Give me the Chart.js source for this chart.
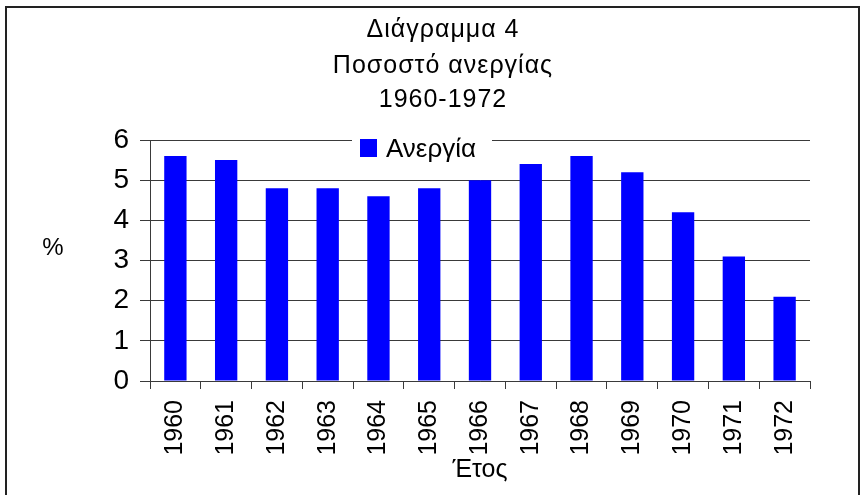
<!DOCTYPE html>
<html>
<head>
<meta charset="utf-8">
<script src="https://cdn.jsdelivr.net/npm/chart.js@4/dist/chart.umd.min.js"></script>
<style>
  html, body { margin: 0; padding: 0; background: #fff; }
  #wrap { position: relative; width: 862px; height: 495px; }
</style>
</head>
<body>
<div id="wrap"><canvas id="c" width="862" height="495"></canvas></div>
<script>
const categories = ['1960','1961','1962','1963','1964','1965','1966','1967','1968','1969','1970','1971','1972'];
const unemployment = [5.6, 5.5, 4.8, 4.8, 4.6, 4.8, 5.0, 5.4, 5.6, 5.2, 4.2, 3.1, 2.1];
const titleLines = ['Διάγραμμα 4', 'Ποσοστό ανεργίας', '1960-1972'];
const seriesName = 'Ανεργία';
const xTitle = 'Έτος';
const yTitle = '%';
const yTicks = [0, 1, 2, 3, 4, 5, 6];

const FONT = "'Liberation Sans', Arial, sans-serif";
const GRID = '#3a3a3a';

const extras = {
  id: 'extras',
  beforeDraw(chart) {
    const ctx = chart.ctx;
    ctx.save();
    ctx.fillStyle = '#fff';
    ctx.fillRect(0, 0, chart.width, chart.height);
    ctx.restore();
  },
  afterDraw(chart) {
    const ctx = chart.ctx;
    const ds = chart.data.datasets[0];
    ctx.save();
    // title lines
    ctx.fillStyle = '#000';
    ctx.font = '25px ' + FONT;
    ctx.textAlign = 'center';
    ctx.textBaseline = 'alphabetic';
    if ('letterSpacing' in ctx) ctx.letterSpacing = '1px';
    const baselines = [37, 73, 107];
    titleLines.forEach((t, i) => ctx.fillText(t, 443, baselines[i]));
    if ('letterSpacing' in ctx) ctx.letterSpacing = '0px';
    // legend (overlapping the top gridline)
    ctx.fillStyle = '#fff';
    ctx.fillRect(352, 131, 140, 30);
    ctx.fillStyle = ds.backgroundColor;
    ctx.fillRect(360, 139, 17, 18);
    ctx.fillStyle = '#000';
    ctx.font = '26px ' + FONT;
    ctx.textAlign = 'left';
    ctx.fillText(ds.label, 386, 157);
    // y-axis title, horizontal
    ctx.font = '24px ' + FONT;
    ctx.textAlign = 'center';
    ctx.fillText(yTitle, 53, 255);
    // outer frame
    ctx.strokeStyle = '#222';
    ctx.lineWidth = 2;
    ctx.strokeRect(6, 7, 853, 500);
    ctx.restore();
  }
};

new Chart(document.getElementById('c'), {
  type: 'bar',
  data: {
    labels: categories,
    datasets: [{
      label: seriesName,
      data: unemployment,
      backgroundColor: '#0000ff',
      borderWidth: 0,
      barPercentage: 0.44,
      categoryPercentage: 1.0
    }]
  },
  options: {
    responsive: false,
    animation: false,
    devicePixelRatio: 1,
    layout: { padding: { left: 0, right: 52, top: 140, bottom: 0 } },
    plugins: {
      legend: { display: false },
      tooltip: { enabled: false },
      title: { display: false }
    },
    scales: {
      x: {
        offset: true,
        grid: { display: true, drawOnChartArea: false, drawTicks: true, tickLength: 8, color: GRID, offset: true },
        border: { display: true, color: GRID, width: 1 },
        ticks: {
          color: '#000', font: { family: FONT, size: 25 },
          minRotation: 90, maxRotation: 90, padding: 11, autoSkip: false
        },
        title: {
          display: true, text: xTitle, color: '#000',
          font: { family: FONT, size: 25 }, padding: { top: 0, bottom: 10 }
        },
        afterFit(scale) { scale.height = 114; }
      },
      y: {
        min: 0, max: 6,
        afterBuildTicks(scale) { scale.ticks = yTicks.map(v => ({ value: v })); },
        grid: { color: GRID, tickLength: 10, drawTicks: true },
        border: { display: true, color: GRID, width: 1 },
        ticks: { color: '#000', font: { family: FONT, size: 28 }, padding: 11, stepSize: 1 },
        afterFit(scale) { scale.width = 150; }
      }
    }
  },
  plugins: [extras]
});
</script>
</body>
</html>
